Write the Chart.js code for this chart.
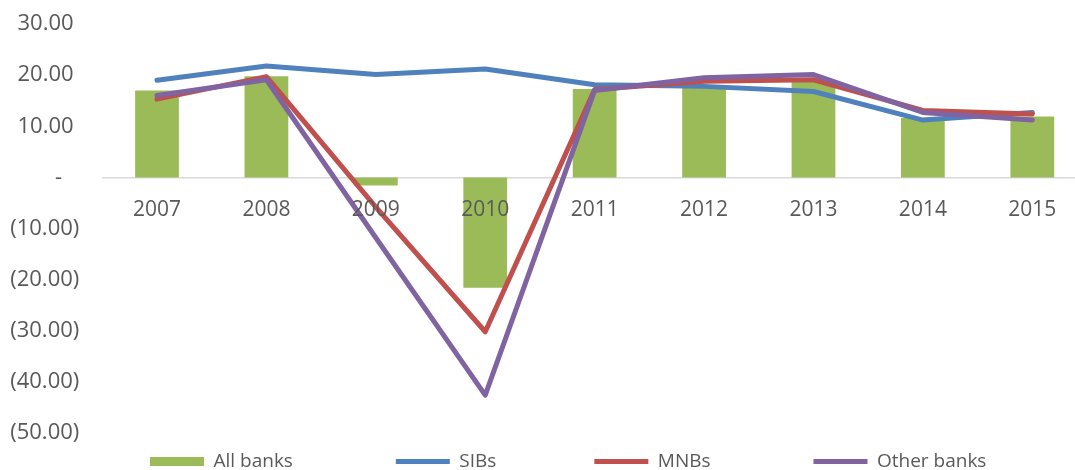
<!DOCTYPE html>
<html>
<head>
<meta charset="utf-8">
<script src="https://cdn.jsdelivr.net/npm/chart.js@4/dist/chart.umd.min.js"></script>
<style>
  html, body { margin: 0; padding: 0; background: #fff; overflow: hidden; }
  #wrap { width: 1075px; height: 470px; overflow: hidden; }
</style>
</head>
<body>
<div id="wrap">
  <canvas id="myChart" width="1100" height="470"></canvas>
</div>
<script>
const years = ['2007', '2008', '2009', '2010', '2011', '2012', '2013', '2014', '2015']
const allBanks = [17.0, 19.8, -1.6, -21.6, 17.3, 18.0, 18.8, 11.6, 11.9]
const sibs = [19.0, 21.8, 20.1, 21.2, 18.1, 17.8, 16.8, 11.2, 12.7]
const mnbs = [15.3, 19.7, -5.8, -30.2, 17.2, 18.8, 19.1, 13.1, 12.4]
const otherBanks = [16.0, 19.1, -11.8, -42.6, 17.0, 19.5, 20.1, 12.7, 11.2]

const fontFamily = "'Open Sans', 'Liberation Sans', sans-serif"
const textColor = '#595959'
const nb = '\u00a0'

// legend gaps are made with trailing no-break spaces
const gaps = [nb.repeat(17), nb.repeat(16), nb.repeat(17), '']

function yLabel(v) {
  if (v === 0) return '-' + nb.repeat(3)
  if (v < 0) return '(' + Math.abs(v).toFixed(2) + ')'
  return v.toFixed(2) + nb
}

function lineSet(label, data, color, order) {
  return {
    type: 'line',
    label: label,
    data: data,
    borderColor: color,
    backgroundColor: color,
    borderWidth: 5,
    borderCapStyle: 'round',
    borderJoinStyle: 'round',
    pointRadius: 0,
    tension: 0,
    order: order,
  }
}

// move the legend row so it starts under 2007 like the original
const legendShift = {
  id: 'legendShift',
  afterLayout(chart) {
    chart.legend.left = 131
  },
}

new Chart(document.getElementById('myChart'), {
  type: 'bar',
  data: {
    labels: years,
    datasets: [
      {
        label: 'All banks',
        data: allBanks,
        backgroundColor: '#9bbb59',
        borderWidth: 0,
        barPercentage: 0.4,
        categoryPercentage: 1,
        order: 4,
      },
      lineSet('SIBs', sibs, '#4f81bd', 3),
      lineSet('MNBs', mnbs, '#c0504d', 2),
      lineSet('Other banks', otherBanks, '#8064a2', 1),
    ],
  },
  plugins: [legendShift],
  options: {
    responsive: false,
    animation: false,
    layout: { padding: { top: 24, left: 0, right: 13, bottom: 0 } },
    plugins: {
      tooltip: { enabled: false },
      legend: {
        position: 'bottom',
        align: 'start',
        maxHeight: 37,
        labels: {
          usePointStyle: true,
          pointStyleWidth: 54,
          boxHeight: 9,
          padding: 19,
          color: textColor,
          font: { family: fontFamily, size: 19 },
          sort: (a, b) => a.datasetIndex - b.datasetIndex,
          generateLabels(chart) {
            const items = Chart.defaults.plugins.legend.labels.generateLabels(chart)
            items.forEach((it) => {
              it.pointStyle = it.datasetIndex === 0 ? 'rect' : 'line'
              it.text = it.text + gaps[it.datasetIndex]
            })
            return items
          },
        },
      },
    },
    scales: {
      x: {
        position: { y: 0 },
        grid: { display: false, drawTicks: false },
        border: { display: true, color: '#d9d9d9', width: 1.5 },
        ticks: {
          z: 1,
          padding: 20,
          color: textColor,
          font: { family: fontFamily, size: 21 },
          maxRotation: 0,
        },
      },
      y: {
        min: -50,
        max: 30,
        grid: { display: false, drawTicks: false },
        border: { display: false },
        afterFit(scale) {
          scale.width = 102.3
          scale.paddingTop = 0
          scale.paddingBottom = 0
        },
        ticks: {
          stepSize: 10,
          padding: 23,
          color: textColor,
          font: { family: fontFamily, size: 22 },
          callback: (v) => yLabel(v),
        },
      },
    },
  },
})
</script>
</body>
</html>
